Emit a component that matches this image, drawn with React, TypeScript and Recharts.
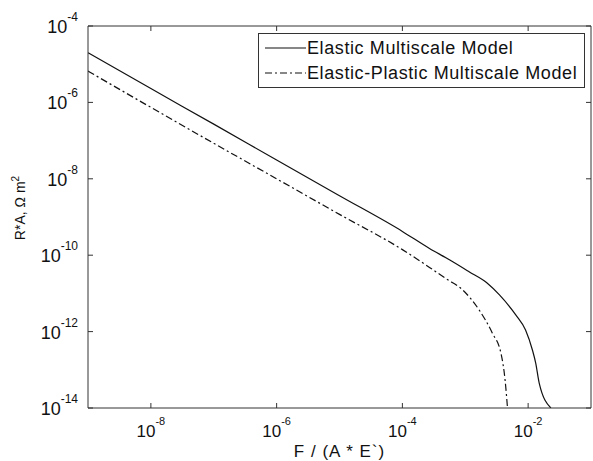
import { LineChart, Line, XAxis, YAxis, Legend, ReferenceLine } from 'recharts';

const FONT = '"Liberation Sans", Arial, Helvetica, sans-serif';
const INK = '#111';
const AXIS = '#333';

const W = 593;
const H = 461;
const MARGIN = { top: 26, right: 2, bottom: 0, left: 8 };
const PLOT_TOP = MARGIN.top;
const PLOT_RIGHT = W - MARGIN.right;

// decade ticks, every second one like the original
const forceTicks = [1e-8, 1e-6, 1e-4, 1e-2];
const contactTicks = [1e-14, 1e-12, 1e-10, 1e-8, 1e-6, 1e-4];

// elastic multiscale model
const elasticForce = [1e-9, 1e-8, 1e-7, 1e-6, 1e-5, 1e-4, 2.7e-4, 5.6e-4, 1.15e-3, 2.2e-3, 3.5e-3, 6.4e-3, 9.1e-3, 1.17e-2, 1.32e-2, 1.5e-2, 2.3e-2];
const elasticRA = [2.0e-5, 2.3e-6, 2.7e-7, 3.1e-8, 3.6e-9, 4.2e-10, 1.5e-10, 7.6e-11, 3.7e-11, 1.9e-11, 9.1e-12, 2.7e-12, 1.1e-12, 3.3e-13, 1.5e-13, 4.5e-14, 1e-14];

// elastic-plastic multiscale model
const plasticForce = [1e-9, 1e-8, 1e-7, 1e-6, 1e-5, 1e-4, 2.7e-4, 5e-4, 9.1e-4, 1.66e-3, 2.7e-3, 3.7e-3, 4.3e-3, 4.7e-3];
const plasticRA = [6.6e-6, 7.4e-7, 8.5e-8, 1.0e-8, 1.17e-9, 1.4e-10, 4.8e-11, 2.4e-11, 1.23e-11, 3.7e-12, 9.1e-13, 2.7e-13, 5.4e-14, 1e-14];

const elasticData = elasticForce.map((x, i) => ({ x, y: elasticRA[i] }));
const plasticData = plasticForce.map((x, i) => ({ x, y: plasticRA[i] }));

const exponent = (v: number) => String(Math.round(Math.log10(v)));

// matlab style: inward ticks on bottom and top, label below
function XTick({ x, y, payload }: any) {
  return (
    <g>
      <line x1={x} y1={y} x2={x} y2={y - 5} stroke={AXIS} />
      <line x1={x} y1={PLOT_TOP} x2={x} y2={PLOT_TOP + 5} stroke={AXIS} />
      <text x={x} y={y + 29} textAnchor="middle" fontSize={17} fill={INK} fontFamily={FONT}>
        <tspan>10</tspan>
        <tspan dy={-12} fontSize={11}>{exponent(payload.value)}</tspan>
      </text>
    </g>
  );
}

function YTick({ x, y, payload }: any) {
  return (
    <g>
      <line x1={x} y1={y} x2={x + 5} y2={y} stroke={AXIS} />
      <line x1={PLOT_RIGHT} y1={y} x2={PLOT_RIGHT - 5} y2={y} stroke={AXIS} />
      <text x={x - 10} y={y + 7} textAnchor="end" fontSize={18} fill={INK} fontFamily={FONT}>
        <tspan>10</tspan>
        <tspan dy={-12} fontSize={12}>{exponent(payload.value)}</tspan>
      </text>
    </g>
  );
}

function XTitle({ viewBox }: any) {
  return (
    <text x={viewBox.x + viewBox.width / 2} y={viewBox.y + 49} textAnchor="middle" fontSize={17} letterSpacing={1} fill={INK} fontFamily={FONT}>
      F / (A * E`)
    </text>
  );
}

function YTitle({ viewBox }: any) {
  const cx = viewBox.x + 12;
  const cy = viewBox.y + 182;
  return (
    <text x={cx} y={cy} transform={`rotate(-90 ${cx} ${cy})`} dy={5} textAnchor="middle" fontSize={14} fill={INK} fontFamily={FONT}>
      R*A, Ω m
      <tspan dy={-6} fontSize={10}>2</tspan>
    </text>
  );
}

function LegendBox() {
  const row = (top: number, label: string, dash?: string) => (
    <div style={{ position: 'absolute', left: 6, top, display: 'flex', alignItems: 'center', whiteSpace: 'nowrap' }}>
      <svg width={41} height={10} style={{ display: 'block' }}>
        <line x1={0} y1={5} x2={41} y2={5} stroke={INK} strokeWidth={1.2} strokeDasharray={dash} />
      </svg>
      <span style={{ marginLeft: 1, lineHeight: '20px', letterSpacing: 0.6 }}>{label}</span>
    </div>
  );
  return (
    <div
      style={{
        position: 'relative',
        width: 327,
        height: 55,
        boxSizing: 'border-box',
        border: '1px solid #333',
        background: '#fff',
        fontFamily: FONT,
        fontSize: 18,
        color: INK,
      }}
    >
      {row(4, 'Elastic Multiscale Model')}
      {row(29, 'Elastic-Plastic Multiscale Model', '7 3 2 3')}
    </div>
  );
}

export default function App() {
  return (
    <div style={{ position: 'absolute', left: 0, top: 0, background: '#fff' }}>
      <LineChart width={W} height={H} margin={MARGIN}>
        <XAxis
          dataKey="x"
          type="number"
          scale="log"
          domain={[1e-9, 1e-1]}
          allowDataOverflow
          ticks={forceTicks}
          interval={0}
          height={53}
          tickSize={0}
          tickMargin={0}
          tickLine={false}
          tick={<XTick />}
          stroke={AXIS}
          label={{ content: <XTitle /> }}
        />
        <YAxis
          dataKey="y"
          type="number"
          scale="log"
          domain={[1e-14, 1e-4]}
          allowDataOverflow
          ticks={contactTicks}
          interval={0}
          width={80}
          tickSize={0}
          tickMargin={0}
          tickLine={false}
          tick={<YTick />}
          stroke={AXIS}
          label={{ content: <YTitle /> }}
        />
        {/* close the box on top and right */}
        <ReferenceLine y={1e-4} stroke={AXIS} />
        <ReferenceLine x={1e-1} stroke={AXIS} />
        <Legend
          verticalAlign="middle"
          align="center"
          content={<LegendBox />}
          wrapperStyle={{ left: 258, top: 33, width: 327, height: 55 }}
        />
        <Line
          data={elasticData}
          dataKey="y"
          name="Elastic Multiscale Model"
          type="monotone"
          stroke={INK}
          strokeWidth={1.2}
          dot={false}
          isAnimationActive={false}
        />
        <Line
          data={plasticData}
          dataKey="y"
          name="Elastic-Plastic Multiscale Model"
          type="monotone"
          stroke={INK}
          strokeWidth={1.2}
          strokeDasharray="7 3 2 3"
          dot={false}
          isAnimationActive={false}
        />
      </LineChart>
    </div>
  );
}
